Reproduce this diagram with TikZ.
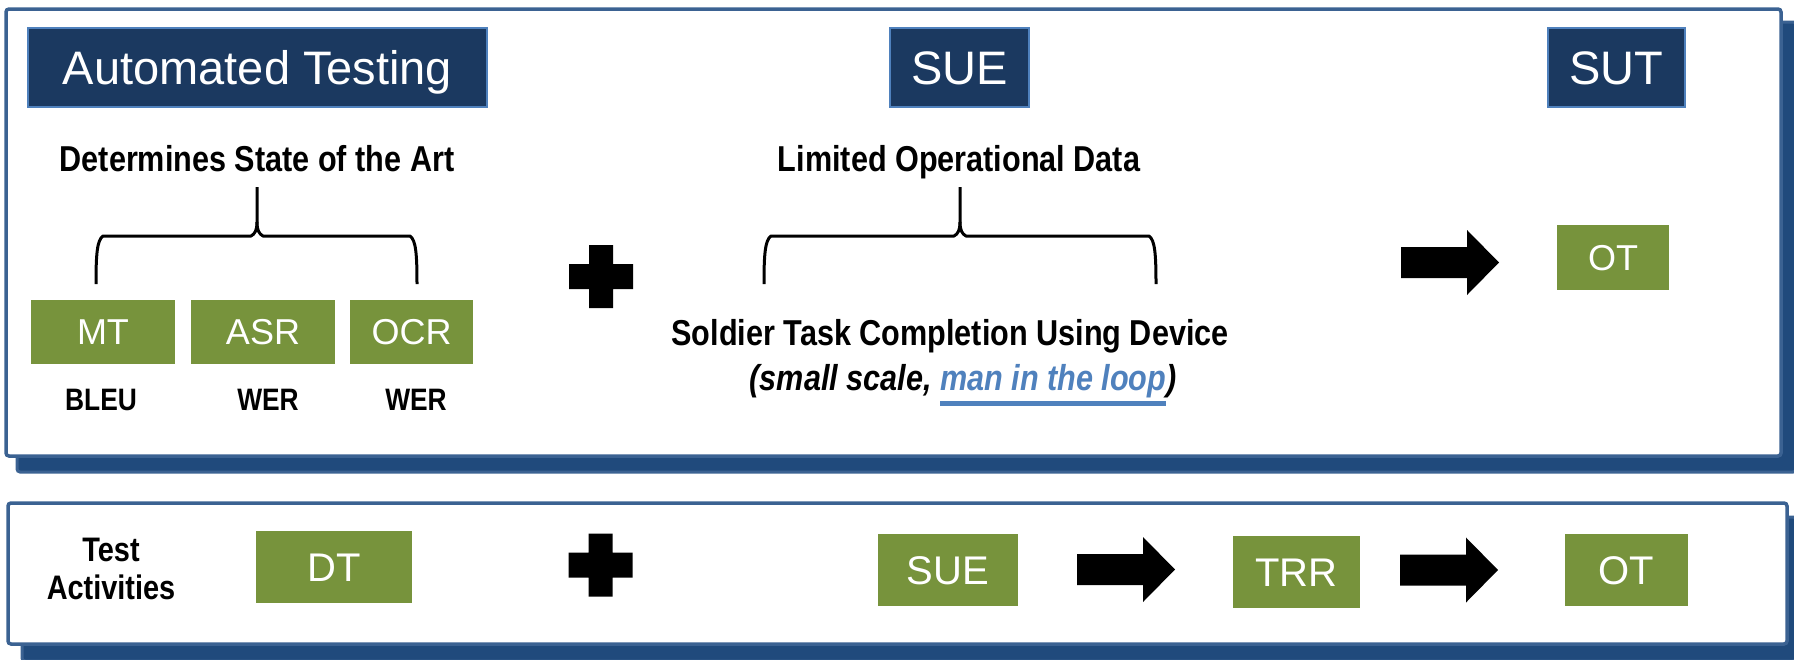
\documentclass[tikz,border=0pt]{standalone}
\usepackage{fontspec}
\setmainfont{Liberation Sans}
\newfontfamily\narrowfont[FakeStretch=0.85]{Liberation Sans}
\definecolor{navy}{HTML}{1B3960}
\definecolor{hdrborder}{HTML}{4F81BD}
\definecolor{olive}{HTML}{77933C}
\definecolor{panelblue}{HTML}{3B6292}
\definecolor{shadowblue}{HTML}{204A7C}
\definecolor{linkblue}{HTML}{4F81BD}
\newcommand\myul[1]{\setbox0=\hbox{#1}\rlap{\rule[-16pt]{\wd0}{5pt}}\box0}
\newcommand\curlybrace[3]{%
  \draw[bracestyle] (#1,284) .. controls (#1,255) and (#1+1,240) .. (#1+7,236) -- (#2-6,236) .. controls (#2-2,234) and (#2,230) .. (#2,222) -- (#2,187);
  \draw[bracestyle] (#2,222) .. controls (#2,230) and (#2+2,234) .. (#2+6,236) -- (#3-7,236) .. controls (#3-1,240) and (#3,255) .. (#3,284);}
\tikzset{
  panel/.style={fill=white, draw=panelblue, line width=3.5pt, rounded corners=3pt},
  panelshadow/.style={fill=shadowblue, draw=panelblue, line width=3pt, rounded corners=3pt},
  header/.style={fill=navy, draw=hdrborder, line width=2pt, text=white, inner sep=0pt,
    font=\fontsize{47}{56}\selectfont, text height=33.6pt, text depth=0pt},
  gbox/.style={fill=olive, text=white, inner sep=0pt,
    font=\fontsize{36}{43}\selectfont, text height=25.8pt, text depth=0pt},
  gboxb/.style={fill=olive, text=white, inner sep=0pt,
    font=\fontsize{40}{48}\selectfont, text height=28.6pt, text depth=0pt},
  boldlabel/.style={inner sep=0pt, anchor=base, font=\narrowfont\bfseries\fontsize{36}{43}\selectfont},
  metric/.style={inner sep=0pt, anchor=base, font=\narrowfont\bfseries\fontsize{31}{37}\selectfont},
  bracestyle/.style={line width=3pt, line join=round},
  plussign/.pic={\fill[black] (-12,-31.5) -- (12,-31.5) -- (12,-12.5) -- (32,-12.5) -- (32,12.5) -- (12,12.5) -- (12,31.5) -- (-12,31.5) -- (-12,12.5) -- (-32,12.5) -- (-32,-12.5) -- (-12,-12.5) -- cycle;},
  blockarrow/.pic={\fill[black] (0,-15.5) -- (66,-15.5) -- (66,-32.5) -- (98,0) -- (66,32.5) -- (66,15.5) -- (0,15.5) -- cycle;}
}
\begin{document}
\begin{tikzpicture}[x=1pt,y=-1pt]
\useasboundingbox (0,0) rectangle (1794,659);
% panels
\draw[panelshadow] (17,22) rectangle (1796,472);
\draw[panel] (6,9) rectangle (1781,456);
\draw[panelshadow] (22,517) rectangle (1796,661);
\draw[panel] (8,503) rectangle (1787,644);
% headers
\node[header, minimum width=459pt, minimum height=79pt] (hat) at (257.5,67.5) {Automated Testing};
\node[header, minimum width=139pt, minimum height=79pt] (hsue) at (959.5,67.5) {SUE};
\node[header, minimum width=137pt, minimum height=79pt] (hsut) at (1616.5,67.5) {SUT};
% top left
\node[boldlabel] (dsa) at (257,171) {Determines State of the Art};
\curlybrace{96}{257}{417}
\node[gbox, minimum width=144pt, minimum height=64pt] (mt) at (103,332) {MT};
\node[gbox, minimum width=144pt, minimum height=64pt] (asr) at (263,332) {ASR};
\node[gbox, minimum width=123pt, minimum height=64pt] (ocr) at (411.5,332) {OCR};
\node[metric] (bleu) at (101,410) {BLEU};
\node[metric] (wer1) at (268,410) {WER};
\node[metric] (wer2) at (416,410) {WER};
\pic (plus1) at (601,276.5) {plussign};
% top middle
\node[boldlabel] (lod) at (959,171) {Limited Operational Data};
\curlybrace{764}{960}{1156}
\node[boldlabel] (stc) at (950,345) {Soldier Task Completion Using Device};
\node[boldlabel] (ssc) at (963,390) {\itshape (small scale, \textcolor{linkblue}{\myul{man in the loop}})};
% top right
\pic (arr1) at (1401,262.5) {blockarrow};
\node[gbox, minimum width=112pt, minimum height=65pt] (ot1) at (1613,257.5) {OT};
% bottom panel
\node[inner sep=0pt, align=center, font=\narrowfont\bfseries\fontsize{34}{38}\selectfont] (ta) at (111,569) {Test\\Activities};
\node[gboxb, minimum width=156pt, minimum height=72pt] (dt) at (334,567) {DT};
\pic (plus2) at (600.5,565) {plussign};
\node[gboxb, minimum width=140pt, minimum height=72pt] (sue2) at (948,570) {SUE};
\pic (arr2) at (1077,569.5) {blockarrow};
\node[gboxb, minimum width=127pt, minimum height=72pt] (trr) at (1296.5,572) {TRR};
\pic (arr3) at (1400,570) {blockarrow};
\node[gboxb, minimum width=123pt, minimum height=72pt] (ot2) at (1626.5,570) {OT};
\end{tikzpicture}
\end{document}
